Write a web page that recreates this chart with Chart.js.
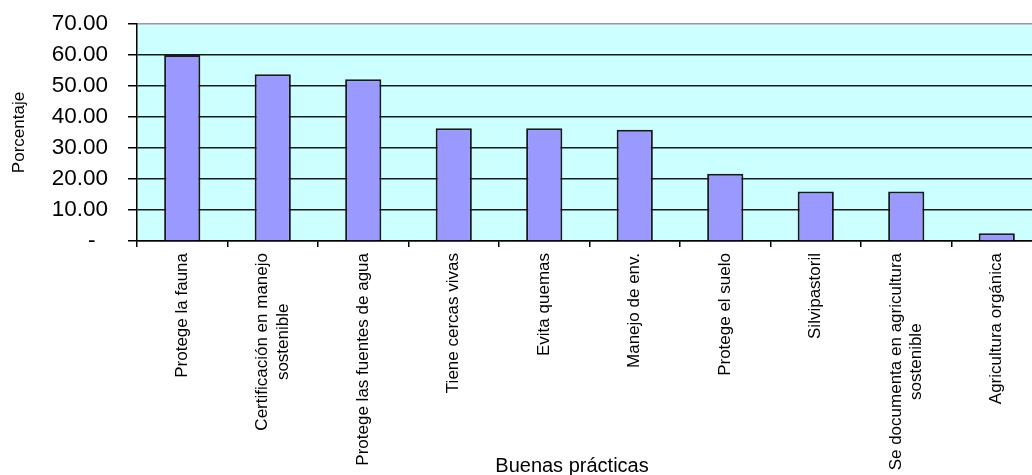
<!DOCTYPE html>
<html>
<head>
<meta charset="utf-8">
<script src="https://cdn.jsdelivr.net/npm/chart.js@4/dist/chart.umd.min.js"></script>
<style>
  html, body { margin: 0; padding: 0; background: #fff; overflow: hidden; }
  #wrap { width: 1042px; height: 475px; }
  canvas { display: block; }
</style>
</head>
<body>
<div id="wrap"><canvas id="c" width="1042" height="475"></canvas></div>
<script>
// Good practices reported, percentage of farms
const categories = [
  'Protege la fauna',
  ['Certificación en manejo', 'sostenible'],
  'Protege las fuentes de agua',
  'Tiene cercas vivas',
  'Evita quemas',
  'Manejo de env.',
  'Protege el suelo',
  'Silvipastoril',
  ['Se documenta en agricultura', 'sostenible'],
  'Agricultura orgánica'
];
const percentages = [60.0, 53.8, 52.2, 36.4, 36.4, 35.9, 21.7, 16.0, 16.0, 2.5];
const yTicks = [0, 10, 20, 30, 40, 50, 60, 70];
const yTitle = 'Porcentaje';
const xTitle = 'Buenas prácticas';

const FONT = "'Liberation Sans', Arial, sans-serif";

// Light cyan plot background
const plotBackground = {
  id: 'plotBackground',
  beforeDraw(chart) {
    const { ctx, chartArea: a } = chart;
    ctx.save();
    ctx.fillStyle = '#ccffff';
    ctx.fillRect(a.left, a.top, a.right - a.left, a.bottom - a.top);
    ctx.restore();
  }
};

// Vertical category labels (multi-line labels centred on each other) and axis title
const categoryLabels = {
  id: 'categoryLabels',
  afterDraw(chart) {
    const { ctx, chartArea: a } = chart;
    const xs = chart.scales.x;
    const lh = 20.5;
    ctx.save();
    ctx.fillStyle = '#000';
    ctx.font = '17px ' + FONT;
    categories.forEach((lab, i) => {
      const lines = Array.isArray(lab) ? lab : [lab];
      const maxW = Math.max(...lines.map(l => ctx.measureText(l).width));
      const x = xs.getPixelForValue(i);
      ctx.save();
      ctx.translate(x, a.bottom + 12);
      ctx.rotate(-Math.PI / 2);
      ctx.textAlign = 'center';
      ctx.textBaseline = 'middle';
      lines.forEach((line, k) => {
        ctx.fillText(line, -maxW / 2, (k - (lines.length - 1) / 2) * lh);
      });
      ctx.restore();
    });
    ctx.font = '20px ' + FONT;
    ctx.textAlign = 'center';
    ctx.textBaseline = 'alphabetic';
    ctx.fillText(xTitle, 572, 472);
    ctx.restore();
  }
};

new Chart(document.getElementById('c'), {
  type: 'bar',
  data: {
    labels: categories,
    datasets: [{
      data: percentages,
      backgroundColor: '#9999ff',
      borderColor: '#1a1a1a',
      borderWidth: 2,
      barPercentage: 0.8,
      categoryPercentage: 0.5
    }]
  },
  options: {
    responsive: false,
    animation: false,
    layout: { padding: { top: 24, left: 0, right: 0, bottom: 0 } },
    plugins: { legend: { display: false }, tooltip: { enabled: false } },
    scales: {
      x: {
        afterFit(scale) { scale.height = 234; },
        grid: {
          display: true,
          offset: true,
          drawOnChartArea: false,
          drawTicks: true,
          tickLength: 6,
          color: '#000',
          lineWidth: 1.5
        },
        border: { display: true, color: '#000', width: 1.5 },
        ticks: { display: false }
      },
      y: {
        min: 0,
        max: 70,
        afterFit(scale) {
          scale.width = 137;
          scale.paddingTop = 0;
          scale.paddingBottom = 0;
        },
        afterBuildTicks(scale) { scale.ticks = yTicks.map(v => ({ value: v })); },
        grid: {
          color: ctx => (ctx.tick && ctx.tick.value === 70) ? '#9a9a9a' : '#1a1a1a',
          tickColor: '#000',
          lineWidth: 1.5,
          tickLength: 9
        },
        border: { display: true, color: '#000', width: 1.5 },
        ticks: {
          padding: 20,
          color: '#000',
          font: { family: FONT, size: 22.5 },
          callback: v => v === 0 ? '-  ' : Number(v).toFixed(2)
        },
        title: {
          display: true,
          text: yTitle,
          color: '#000',
          font: { family: FONT, size: 17 },
          padding: { top: 9, bottom: 0 }
        }
      }
    }
  },
  plugins: [plotBackground, categoryLabels]
});
</script>
</body>
</html>
